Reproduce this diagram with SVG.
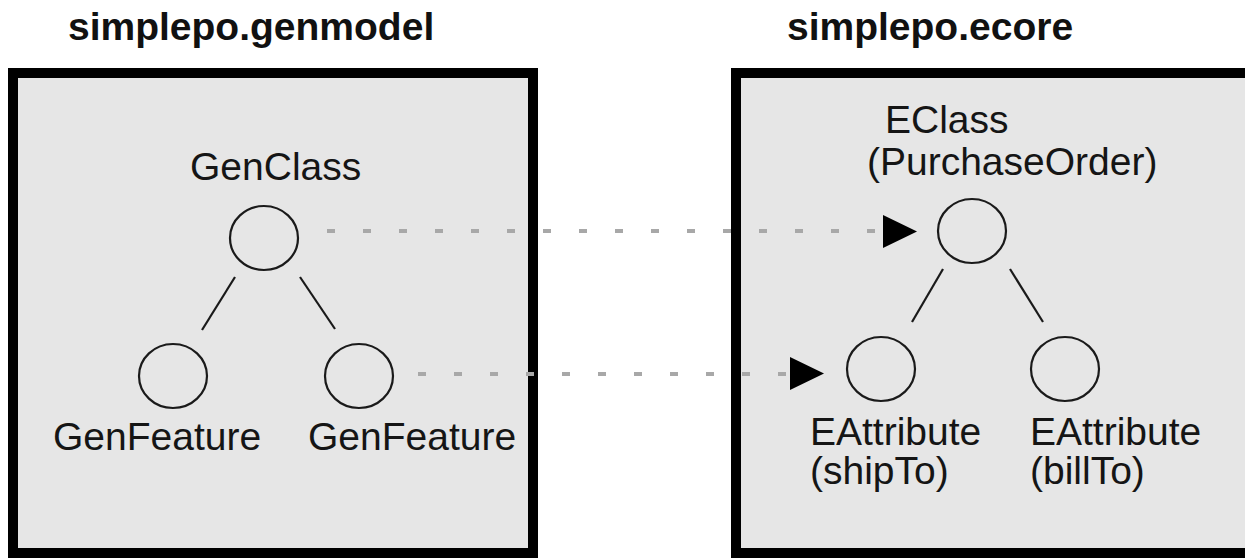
<svg xmlns="http://www.w3.org/2000/svg" width="1245" height="560" viewBox="0 0 1245 560">
<style>
.title{font-family:"Liberation Sans",Arial,sans-serif;font-size:39px;font-weight:bold;fill:#111}
.lbl{font-family:"Liberation Sans",Arial,sans-serif;font-size:39px;fill:#151515}
.box{fill:#e6e6e6;stroke:#000;stroke-width:10}
.node{fill:none;stroke:#1a1a1a;stroke-width:2.2}
.edge{stroke:#1a1a1a;stroke-width:2.2}
.dot{stroke:#a8a8a8;stroke-width:4;stroke-dasharray:8 28;fill:none}
.arrow{fill:#000}
</style>
<text class="title" x="68" y="40">simplepo.genmodel</text>
<text class="title" x="787" y="40">simplepo.ecore</text>
<g id="genmodel-box"><rect class="box" x="13" y="73" width="520" height="480"/></g>
<g id="ecore-box"><rect class="box" x="736" y="73" width="540" height="480"/></g>
<g id="genclass"><ellipse class="node" cx="264" cy="238" rx="34" ry="32"/><text class="lbl" x="190" y="180">GenClass</text></g>
<g id="genfeature1"><ellipse class="node" cx="173" cy="376" rx="34" ry="32"/><text class="lbl" x="53" y="450">GenFeature</text></g>
<g id="genfeature2"><ellipse class="node" cx="359" cy="376" rx="34" ry="32"/><text class="lbl" x="308" y="450">GenFeature</text></g>
<g id="eclass"><ellipse class="node" cx="972" cy="231" rx="34" ry="32"/><text class="lbl" x="885" y="133">EClass</text><text class="lbl" x="867" y="175">(PurchaseOrder)</text></g>
<g id="eattr-shipto"><ellipse class="node" cx="881" cy="369" rx="34" ry="32"/><text class="lbl" x="810" y="445">EAttribute</text><text class="lbl" x="810" y="484">(shipTo)</text></g>
<g id="eattr-billto"><ellipse class="node" cx="1065" cy="369" rx="34" ry="32"/><text class="lbl" x="1030" y="445">EAttribute</text><text class="lbl" x="1030" y="484">(billTo)</text></g>
<g id="connectors">
<line class="edge" x1="235" y1="277" x2="202" y2="330"/>
<line class="edge" x1="300" y1="277" x2="335" y2="329"/>
<line class="edge" x1="943" y1="269" x2="912" y2="322"/>
<line class="edge" x1="1010" y1="269" x2="1043" y2="322"/>
<line class="dot" x1="327" y1="231" x2="880" y2="231"/>
<path class="arrow" d="M883,215 L917,231.5 L883,248 Z"/>
<line class="dot" x1="418" y1="374" x2="786" y2="374"/>
<path class="arrow" d="M790,357 L824,373.5 L790,390 Z"/>
</g>
</svg>
